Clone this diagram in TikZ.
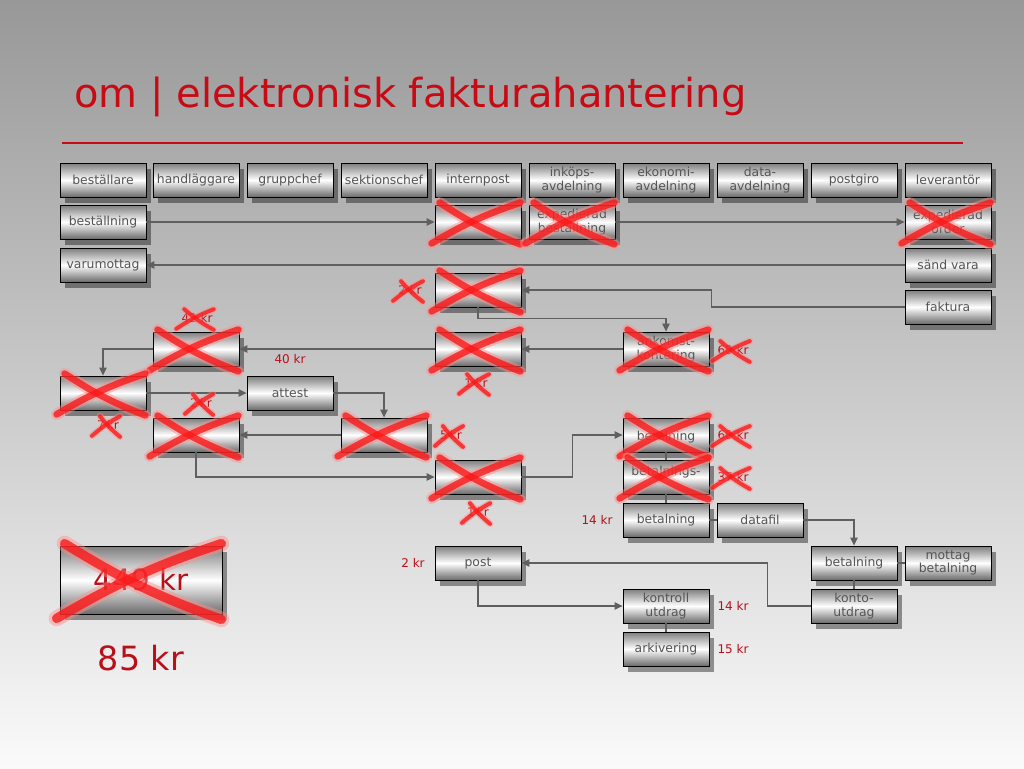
\documentclass[tikz,border=0pt]{standalone}
\usepackage{fontspec}
\setmainfont{DejaVu Sans}
\usetikzlibrary{positioning,arrows.meta,shadows}
\definecolor{Rubrikrod}{RGB}{200,10,20}
\definecolor{Kostnadrod}{RGB}{185,15,25}
\definecolor{Linjegra}{RGB}{95,95,95}
\definecolor{Textgra}{RGB}{85,85,85}
\definecolor{Boxgra}{RGB}{125,125,125}
\definecolor{Bakgrundtopp}{RGB}{152,152,152}
\definecolor{Bakgrundbotten}{RGB}{250,250,250}
\definecolor{Kryssrod}{RGB}{250,25,25}
\definecolor{Kryssljus}{RGB}{255,140,140}

% red cross over a node, #1 = stroke width
\newcommand{\kryss}[2][5pt]{%
  \draw[kryssglod,line width=1.7*#1] ([shift={(-3,4)}]#2.south west) to[bend left=6] ([shift={(-1,-2)}]#2.north east);
  \draw[kryssglod,line width=1.7*#1] ([shift={(5,-2)}]#2.north west) to[bend right=6] ([shift={(-1,5)}]#2.south east);
  \draw[krysslinje,line width=#1] ([shift={(-3,4)}]#2.south west) to[bend left=6] ([shift={(-1,-2)}]#2.north east);
  \draw[krysslinje,line width=#1] ([shift={(5,-2)}]#2.north west) to[bend right=6] ([shift={(-1,5)}]#2.south east);
}

\begin{document}
\begin{tikzpicture}[x=0.75pt,y=-0.75pt,
    ruta/.style={draw=black,line width=0.6pt,top color=Boxgra,bottom color=Boxgra!85!black,middle color=white,
      minimum width=64.5pt,minimum height=25.5pt,inner sep=0.5pt,text=Textgra,align=center,
      font=\fontsize{9.3}{10}\selectfont,
      drop shadow={shadow xshift=4pt,shadow yshift=-4.5pt,opacity=.4,fill=black}},
    pil/.style={draw=Linjegra,line width=1.1pt,-{Triangle[length=6pt,width=5.5pt]}},
    lank/.style={draw=Linjegra,line width=1.1pt},
    kr/.style={text=Kostnadrod,font=\fontsize{9}{10}\selectfont,inner sep=1.5pt},
    krysslinje/.style={draw=Kryssrod,line cap=round,opacity=.8},
    kryssglod/.style={draw=Kryssljus,line cap=round,opacity=.45}]

  % background
  \shade[top color=Bakgrundtopp,bottom color=Bakgrundbotten] (0,0) rectangle (1024,768);
  \useasboundingbox (0,0) rectangle (1024,768);

  \node[anchor=west,text=Rubrikrod,font=\fontsize{30}{34}\selectfont,inner sep=0pt] (rubrik) at (74,97) {om | elektronisk fakturahantering};
  \draw[Rubrikrod,line width=0.8pt] (62,143) -- (963,143);

  % header row
  \node[ruta] (bestallare) at (103,180) {beställare};
  \node[ruta] (handlaggare) at (196,180) {handläggare};
  \node[ruta] (gruppchef) at (290,180) {gruppchef};
  \node[ruta] (sektionschef) at (384,180) {sektionschef};
  \node[ruta] (internpost) at (478,180) {internpost};
  \node[ruta] (inkop) at (572,180) {inköps-\\avdelning};
  \node[ruta] (ekonomi) at (666,180) {ekonomi-\\avdelning};
  \node[ruta] (data) at (760,180) {data-\\avdelning};
  \node[ruta] (postgiro) at (854,180) {postgiro};
  \node[ruta] (leverantor) at (948,180) {leverantör};

  % steps
  \node[ruta] (bestallning) at (bestallare |- 0,222) {beställning};
  \node[ruta] (int1) at (internpost |- 0,222) {};
  \node[ruta] (ink1) at (inkop |- 0,222) {expedierad\\beställning};
  \node[ruta] (lev1) at (leverantor |- 0,222) {expedierad\\order};
  \node[ruta] (varumottag) at (bestallare |- 0,265) {varumottag};
  \node[ruta] (sandvara) at (leverantor |- 0,265) {sänd vara};
  \node[ruta] (int2) at (internpost |- 0,290) {};
  \node[ruta] (faktura) at (leverantor |- 0,307) {faktura};
  \node[ruta] (han1) at (handlaggare |- 0,349) {};
  \node[ruta] (int3) at (internpost |- 0,349) {};
  \node[ruta] (eko1) at (ekonomi |- 0,349) {ankomst-\\kontering};
  \node[ruta] (bes2) at (bestallare |- 0,393) {};
  \node[ruta] (attest) at (gruppchef |- 0,393) {attest};
  \node[ruta] (han2) at (handlaggare |- 0,435) {};
  \node[ruta] (sek1) at (sektionschef |- 0,435) {};
  \node[ruta] (eko2) at (ekonomi |- 0,435) {\\betalning};
  \node[ruta] (int4) at (internpost |- 0,477) {};
  \node[ruta] (eko3) at (ekonomi |- 0,477) {betalnings-\\};
  \node[ruta] (betal1) at (ekonomi |- 0,520) {betalning};
  \node[ruta] (datafil) at (data |- 0,520) {datafil};
  \node[ruta] (pgbet) at (postgiro |- 0,563) {betalning};
  \node[ruta] (mottag) at (leverantor |- 0,563) {mottag\\betalning};
  \node[ruta] (konto) at (postgiro |- 0,606) {konto-\\utdrag};
  \node[ruta] (post) at (internpost |- 0,563) {post};
  \node[ruta] (kontroll) at (ekonomi |- 0,606) {kontroll\\utdrag};
  \node[ruta] (arkiv) at (ekonomi |- 0,649) {arkivering};

  % costs
  \node[kr] (k2a) at (410,290) {2 kr};
  \node[kr] (k42) at (197,318) {42 kr};
  \node[kr] (k40) at (290,359) {40 kr};
  \node[kr] (k1) at (476,383) {1 kr};
  \node[kr] (k60a) at (733,350) {60 kr};
  \node[kr] (k2x) at (201,403) {2\,kr};
  \node[kr] (k7x) at (108,425) {7\,kr};
  \node[kr] (k5x) at (451,435) {5\,kr};
  \node[kr] (k60b) at (733,435) {60 kr};
  \node[kr] (k37) at (733,477) {37 kr};
  \node[kr] (k1x) at (478,512) {1\,kr};
  \node[kr] (k14a) at (597,520) {14 kr};
  \node[kr] (k2b) at (413,563) {2 kr};
  \node[kr] (k14b) at (733,606) {14 kr};
  \node[kr] (k15) at (733,649) {15 kr};

  \node[ruta,minimum width=121.5pt,minimum height=51pt,text=Kostnadrod,font=\fontsize{22}{26}\selectfont] (gammal) at (141,580) {449 kr};
  \node[text=Kostnadrod,font=\fontsize{25}{28}\selectfont] (ny) at (141,658) {85 kr};

  % connectors
  \draw[pil] (bestallning) -- (int1);
  \draw[pil] (ink1) -- (lev1);
  \draw[pil] (sandvara) -- (varumottag);
  \draw[pil] (faktura.west) -- ++(-193,0) |- (int2.east);
  \draw[pil] (int2.south) -- ++(0,11) -| (eko1.north);
  \draw[pil] (eko1) -- (int3);
  \draw[pil] (int3) -- (han1);
  \draw[pil] (han1.west) -| (bes2.north);
  \draw[pil] (bes2) -- (attest);
  \draw[pil] (attest.east) -| (sek1.north);
  \draw[pil] (sek1) -- (han2);
  \draw[pil] (han2.south) |- (int4.west);
  \draw[pil] (int4.east) -- ++(51,0) |- (eko2.west);
  \draw[lank] (eko2) -- (eko3);
  \draw[lank] (eko3) -- (betal1);
  \draw[lank] (betal1) -- (datafil);
  \draw[pil] (datafil.east) -| (pgbet.north);
  \draw[lank] (pgbet) -- (mottag);
  \draw[lank] (pgbet) -- (konto);
  \draw[pil] (konto.west) -- ++(-43,0) |- (post.east);
  \draw[pil] (post.south) |- (kontroll.west);
  \draw[lank] (kontroll) -- (arkiv);

  % crossed out
  \kryss{int1}
  \kryss{ink1}
  \kryss{lev1}
  \kryss{int2}
  \kryss{han1}
  \kryss{int3}
  \kryss{eko1}
  \kryss{bes2}
  \kryss{han2}
  \kryss{sek1}
  \kryss{int4}
  \kryss{eko2}
  \kryss{eko3}
  \kryss[7pt]{gammal}
  \kryss[3pt]{k2a}
  \kryss[3pt]{k42}
  \kryss[3pt]{k1}
  \kryss[3pt]{k60a}
  \kryss[3pt]{k2x}
  \kryss[3pt]{k7x}
  \kryss[3pt]{k5x}
  \kryss[3pt]{k60b}
  \kryss[3pt]{k37}
  \kryss[3pt]{k1x}
\end{tikzpicture}
\end{document}
